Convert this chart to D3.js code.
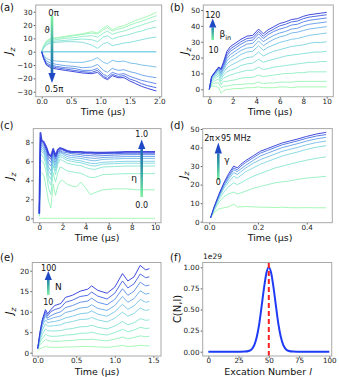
<!DOCTYPE html>
<html><head><meta charset="utf-8">
<script src="https://cdn.jsdelivr.net/npm/d3@7"></script>
<style>body{margin:0;background:#fff} svg{display:block} text{font-family:"DejaVu Sans",sans-serif}</style>
</head><body><svg id="c" width="339" height="377"></svg>
<script>
// ---------- DATA ----------
// (a) Jz vs time for theta = 0π ... 0.5π
const timeA = [0,0.03,0.08,0.15,0.25,0.4,0.55,0.7,0.85,0.95,1.05,1.12,1.2,1.3,1.4,1.5,1.6,1.7,1.8,1.95];
const seriesA = [
 [0,4,8,10,10.5,11.5,12.5,13.5,15,14.2,18,19.5,16.5,18.5,19.5,21.5,23.5,25,26.5,29.5],
 [0,4,7.5,9.5,10,11,12,13,14,13.2,16.5,18,15.5,17,18,20,21.5,23,24.5,27],
 [0,3.5,7,8.5,9,10,10.5,11.5,12,11,14,15.5,13,14.5,15.5,17,18.5,20,21.5,23.5],
 [0,3,6,7.5,8,8.5,9,9.5,9,7.5,11,12,9.5,11,12,13,14.5,15.5,17,18.5],
 [0,2.5,5,6.5,7,7.5,7.5,7,5,2.5,6,7,4.5,5.5,6.5,7,8,9,10,11],
 [0,0,0,0,0,0,0,0,0,0,0,0,0,0,0,0,0,0,0,0],
 [0,-2.5,-5,-6.5,-7,-7.5,-8,-8,-6.5,-4.5,-8,-9,-6.5,-7.5,-7,-8.5,-9,-10,-10.5,-11.5],
 [0,-3.5,-7,-8.5,-9.5,-10.5,-11,-12,-11.5,-9.5,-14,-15.5,-12.5,-14,-13.5,-15,-16,-17.5,-18.5,-19.5],
 [0,-4,-8.5,-10,-11,-12,-12.5,-14,-14,-12.5,-17,-18.5,-15.5,-17,-16.5,-18.5,-20,-21.5,-22.5,-24],
 [0,-4.5,-9.5,-11,-12,-13,-14,-15,-15.5,-14,-18.5,-20,-17,-18.5,-18,-20.5,-22,-24,-25.5,-27],
 [0,-5,-10,-12,-13,-14,-15,-16,-16.5,-15.5,-19.5,-21,-18,-19.5,-19.5,-22,-24,-26,-27.5,-29.5]
];
const xTicksA = [0,0.5,1,1.5,2], yTicksA = [-30,-20,-10,0,10,20,30];

// (b) Jz vs time for beta_in = 10 ... 120 (listed from 10 to 120)
const timeB = [0,0.2,0.5,0.8,1.0,1.2,1.5,1.8,2.2,2.7,3.2,3.7,4.2,4.6,5.0,5.5,6,6.5,7,7.5,8,8.5,9,9.5,10];
const seriesB = [
 [0,2,2,1,-2.5,-1,0,0,0.5,0.5,1,1,1.5,1,1,1,1.5,1.5,1,1.5,1.5,1.5,1.5,1.5,1.5],
 [0,3,4,4,1,2,2,2.5,3,3,3.5,3.5,4.5,3.5,4,4,4.5,4.5,4.5,5,5,5,5,5,5],
 [0,4,5.5,6.5,3,5,5,5.5,6,7,7.5,7.5,9,8,8.5,9,9.5,10,10,10.5,10.5,11,11,11,11],
 [0,5,7,8.5,5,7,8,9,10,11,12,12,14,12.5,13,14,14.5,15,15.5,16,16.5,17,17,17.5,17.5],
 [0,6,8,10,6.5,9,11,12,13,15,16,16.5,19,17,18,19,20,21,21.5,22,22.5,23,23.5,23.5,24],
 [0,6.5,9,11,8,10.5,13.5,15,16.5,18.5,20,20.5,23.5,21,22.5,24,25,26,27,27.5,28,29,29.5,29.5,30],
 [0,7,9.5,12,9,12,16,18,19.5,22,23.5,24,27.5,24.5,26.5,28,29.5,30.5,31.5,32,33,34,34.5,35,35.5],
 [0,7.5,10,12.5,10,13,18,20,22,24.5,26,26.5,30.5,27.5,29.5,31.5,33,34,35.5,36,37,38,38.5,39,39.5],
 [0,7.5,10.5,13,11,14,19.5,22,24,26.5,28.5,29,33,30,32,34,35.5,36.5,38,38.5,40,41,41.5,42,42.5],
 [0,8,11,13.5,12,15,21,24,26,28.5,30.5,31,35,32,34.5,36.5,38,39,40.5,41,42.5,43.5,44,44.5,45],
 [0,8,11,14,12.5,16,22.5,25.5,27.5,30,32,32.5,36.5,33.5,36,38,40,41,42.5,43,44.5,45.5,46,46.5,47],
 [0,8,11,14,13,17,24,27,29,31.5,33.5,34,38,35,37.5,39.5,41.5,42.5,44,44.5,46,47,47.5,48,48.5]
];
const xTicksB = [0,2,4,6,8,10], yTicksB = [0,10,20,30,40,50];

// (c) Jz vs time for eta = 0.0 ... 1.0
const timeC = [0,0.1,0.2,0.4,0.6,0.8,1.0,1.2,1.4,1.6,1.8,2.0,2.4,2.8,3.2,3.6,4.0,4.4,4.8,5.5,6.5,7.5,8.5,10];
const seriesC = [
 [0,0,0,0,0,0,0,0,0,0,0,0,0,0,0,0,0,0,0,0,0,0,0,0],
 [0.2,4.8,4.8,4.5,3.2,1.8,1.1,3.6,2.4,3.4,3.9,4.0,3.6,3.4,3.3,3.8,3.2,2.5,2.7,3.0,3.1,3.1,3.0,3.0],
 [0.3,6.2,6.0,5.8,4.8,3.2,2.5,4.8,3.8,4.8,5.4,5.3,5.0,4.9,4.8,4.75,4.5,4.3,4.3,4.6,4.65,4.7,4.7,4.7],
 [0.5,6.8,6.6,6.4,5.5,4.0,3.5,5.6,4.6,5.7,6.2,6.1,5.8,5.7,5.6,5.55,5.35,5.2,5.15,5.4,5.45,5.5,5.5,5.5],
 [0.5,7.2,7,6.8,5.9,4.5,4.1,6.0,5.0,6.0,6.5,6.4,6.1,6.0,5.9,5.85,5.7,5.55,5.5,5.7,5.75,5.8,5.8,5.8],
 [0.5,7.5,7.2,7,6.2,5.0,4.6,6.2,5.3,6.3,6.7,6.6,6.3,6.2,6.1,6.05,5.9,5.8,5.75,5.9,5.95,6.0,6.0,6.0],
 [0.5,7.8,7.4,7.2,6.5,5.4,5.0,6.5,5.6,6.5,6.9,6.8,6.5,6.4,6.35,6.3,6.2,6.1,6.05,6.2,6.25,6.3,6.3,6.3],
 [0.5,8,7.6,7.4,6.8,5.8,5.5,6.7,5.9,6.7,7.0,6.9,6.7,6.6,6.55,6.5,6.4,6.35,6.3,6.4,6.45,6.5,6.5,6.5],
 [0.5,8.2,7.8,7.6,7.1,6.2,5.9,6.9,6.2,6.9,7.1,7.0,6.9,6.8,6.75,6.7,6.6,6.6,6.55,6.6,6.65,6.7,6.7,6.7],
 [0.5,8.5,8,7.8,7.3,6.5,6.2,7.1,6.4,7.0,7.2,7.2,7.0,6.9,6.9,6.85,6.8,6.8,6.75,6.8,6.8,6.85,6.85,6.85],
 [0.5,9,8.2,8,7.5,6.8,6.5,7.3,6.6,7.2,7.4,7.3,7.1,7.0,7.0,7.0,6.95,6.95,6.9,6.9,6.95,7.0,7.0,7.0]
];
const xTicksC = [0,2,4,6,8,10], yTicksC = [0,2,4,6,8];

// (d) Jz vs time for gamma = 0 ... 2π×95 MHz
const timeD = [0.005,0.02,0.04,0.06,0.08,0.1,0.115,0.13,0.15,0.18,0.21,0.24,0.27,0.3,0.33,0.36,0.4,0.44,0.48];
const seriesD = [
 [2,5,7,7.5,8,9.5,8,8,8.2,8,7.8,7.8,7.6,7.8,7.6,7.5,7.6,7.5,7.5],
 [2,6,10.5,13.5,15,16,15,15.5,16.5,18,19,20,21,21.5,22,22.8,23.5,24,24.5],
 [2,6.5,12,16,19,21,20,21,22.5,24.5,26,27.5,29,30,31,32,33.2,34.2,35],
 [2,7,13,18,21.5,24.5,23.5,25,27,29,31,32.5,34,35.5,36.5,37.5,39,40.2,41],
 [2,7.5,13.5,19,23,26.5,25.5,27,29,31.5,33.5,35,36.5,38,39,40,41.5,42.7,43.5],
 [2,7.5,14,19.5,24,28,27,28.5,30.5,33,35.5,37,38.5,40,41,42,43.5,44.7,45.5],
 [2,8,14.5,20.5,25,29,28,30,32,34.5,37,38.5,40,41.5,42.5,43.5,45,46.2,47],
 [2,8,15,21,26,30,29,31,33,35.5,38,39.5,41,42.5,43.5,44.5,46,47.3,48.2]
];
const xTicksD = [0,0.2,0.4], yTicksD = [0,10,20,30,40,50];

// (e) Jz vs time for N = 10 ... 100
const timeE = [0,0.03,0.06,0.1,0.13,0.17,0.22,0.3,0.36,0.45,0.55,0.65,0.7,0.78,0.9,1.0,1.1,1.17,1.25,1.33,1.4,1.45];
const seriesE = [
 [0.5,1,1.2,1.5,1.4,1.3,1.3,1.3,1.4,1.4,1.5,1.5,1.5,1.4,1.3,1.5,1.8,1.5,1.6,1.8,1.7,1.7],
 [1,2,2.5,3.2,3,2.8,2.8,2.8,2.9,3.0,3.2,3.2,3.3,3.1,2.9,3.3,3.8,3.4,3.7,4.1,3.9,4],
 [1,2.5,3.5,4.5,4.2,4,4,4.1,4.3,4.4,4.7,4.8,5.0,4.6,4.3,4.9,5.7,5.1,5.5,6.2,5.9,6],
 [1,3,4.5,5.8,5.4,5.3,5.3,5.4,5.7,5.9,6.3,6.4,6.7,6.2,5.8,6.5,7.6,6.8,7.3,8.3,7.9,8],
 [1,3.5,5.5,7,6.5,6.5,6.6,6.8,7.3,7.6,8.1,8.2,8.6,8.0,7.5,8.4,9.9,8.9,9.6,10.9,10.3,10.5],
 [1,4,6.5,8,7.3,7.5,7.6,8,8.5,8.9,9.5,9.7,10.2,9.4,8.9,10,11.8,10.6,11.4,13,12.3,12.5],
 [1,4.5,7,9,8,8.3,8.6,9,9.8,10.2,10.9,11.1,11.7,10.8,10.3,11.5,13.7,12.3,13.2,15.1,14.3,14.5],
 [1,4.5,7.5,9.5,8.5,9,9.5,10,11,11.5,12.3,12.6,13.3,12.3,11.7,13,15.6,14,15,17.2,16.3,16.5],
 [1,5,8,10,9,10,10.5,11,12.3,12.8,13.7,14,14.8,13.8,13.1,14.5,17.5,15.8,16.8,19.2,18.3,18.5],
 [1,5,8,10.5,9.5,10.5,11.5,12,13.5,14,15,15.5,16.3,15.2,14.5,16,19.3,17.5,18.5,21.3,20.2,20.5]
];
const xTicksE = [0,0.5,1,1.5], yTicksE = [0,5,10,15,20];

// (f) C(N,l) (units of 1e29) vs excitation number l
const excitationL = [0,20,30,34,36,38,40,42,44,46,48,50,52,54,56,58,60,62,64,66,70,80,100];
const coeffC = [0,0,0.001,0.011,0.031,0.077,0.17,0.32,0.53,0.75,0.93,1.0,0.93,0.75,0.53,0.32,0.17,0.077,0.031,0.011,0.001,0,0];
const peakL = [50];
const xTicksF = [0,25,50,75,100], yTicksF = [0,0.25,0.5,0.75,1];

// ---------- DRAW ----------
const svg = d3.select("#c");
const defs = svg.append("defs");
const cmap = d3.interpolateRgbBasis(["#9ff7ad", "#84e6d8", "#72b8f2", "#2c37d8"]);

function panel(o) {
  const g = svg.append("g");
  const sx = d3.scaleLinear().domain(o.xv).range(o.xp);
  const sy = d3.scaleLinear().domain(o.yv).range(o.yp);
  sx.domain([sx.invert(o.L), sx.invert(o.R)]).range([o.L, o.R]);
  sy.domain([sy.invert(o.B), sy.invert(o.T)]).range([o.B, o.T]);
  const cid = "clip" + o.id;
  defs.append("clipPath").attr("id", cid).append("rect")
    .attr("x", o.L).attr("y", o.T).attr("width", o.R - o.L).attr("height", o.B - o.T);
  const plot = g.append("g").attr("clip-path", `url(#${cid})`);
  if (o.draw) o.draw(plot, sx, sy);
  const ax = g.append("g").attr("transform", `translate(0,${o.B})`)
    .call(d3.axisBottom(sx).tickValues(o.xt).tickFormat(o.xf).tickSizeInner(1.8).tickSizeOuter(0).tickPadding(0));
  const ay = g.append("g").attr("transform", `translate(${o.L},0)`)
    .call(d3.axisLeft(sy).tickValues(o.yt).tickFormat(o.yf).tickSizeInner(2).tickSizeOuter(0).tickPadding(1.2));
  [ax, ay].forEach(a => {
    a.select(".domain").remove();
    a.selectAll(".tick line").attr("stroke", "#333").attr("stroke-width", 0.8);
    a.selectAll(".tick text").attr("font-size", 7.2).attr("fill", "#222").attr("font-family", "DejaVu Sans");
  });
  g.append("rect").attr("x", o.L).attr("y", o.T).attr("width", o.R - o.L).attr("height", o.B - o.T)
    .attr("fill", "none").attr("stroke", "#a8a8a8").attr("stroke-width", 1);
  g.append("text").attr("x", o.lab[0]).attr("y", o.lab[1]).attr("font-size", 10).attr("fill", "#111").text(o.name);
  const xl = g.append("text").attr("x", o.xlab[0]).attr("y", o.xlab[1]).attr("text-anchor", "middle")
    .attr("font-size", 9.5).attr("fill", "#111");
  if (o.xlabelF) o.xlabelF(xl); else xl.text("Time (μs)");
  const yl = g.append("text").attr("transform", `translate(${o.ylab[0]},${o.ylab[1]}) rotate(-90)`)
    .attr("text-anchor", "middle").attr("font-size", 10).attr("fill", "#111");
  if (o.ylabelF) o.ylabelF(yl);
  else {
    yl.append("tspan").attr("font-style", "italic").text("J");
    yl.append("tspan").attr("font-style", "italic").attr("font-size", 7.5).attr("dy", 2.5).text("z");
  }
  if (o.extra) o.extra(g, sx, sy);
  return {sx, sy};
}

function drawSeries(times, series, widths) {
  return (plot, sx, sy) => {
    const line = d3.line().x(d => sx(d[0])).y(d => sy(d[1]));
    const n = series.length;
    series.forEach((s, i) => {
      plot.append("path").datum(times.map((t, k) => [t, s[k]]))
        .attr("d", line).attr("fill", "none")
        .attr("stroke", cmap(i / (n - 1)))
        .attr("stroke-opacity", 0.9)
        .attr("stroke-width", widths ? widths(i, n) : 1)
        .attr("stroke-linejoin", "round");
    });
  };
}

function gradArrow(g, id, x, yTail, yTip, headLen, c0, c1) {
  const gr = defs.append("linearGradient").attr("id", id).attr("gradientUnits", "userSpaceOnUse")
    .attr("x1", x).attr("y1", yTail).attr("x2", x).attr("y2", yTip);
  gr.append("stop").attr("offset", 0).attr("stop-color", c0);
  gr.append("stop").attr("offset", 0.5).attr("stop-color", "#2f9aa6");
  gr.append("stop").attr("offset", 1).attr("stop-color", c1);
  const dir = yTip < yTail ? -1 : 1;
  const yBase = yTip - dir * headLen;
  g.append("line").attr("x1", x).attr("x2", x).attr("y1", yTail).attr("y2", yBase)
    .attr("stroke", `url(#${id})`).attr("stroke-width", 2.6);
  g.append("path").attr("d", `M${x - 3.6},${yBase} L${x + 3.6},${yBase} L${x},${yTip} Z`).attr("fill", c1);
}

function label(g, x, y, txt, size, anchor) {
  return g.append("text").attr("x", x).attr("y", y).attr("font-size", size || 8)
    .attr("text-anchor", anchor || "middle").attr("fill", "#111").text(txt);
}

const f1 = d3.format(".1f"), fd = d3.format("d"), f2 = d3.format(".2f");

// (a)
panel({id: "a", name: "(a)", L: 35.7, R: 161.7, T: 5, B: 96.7,
  xv: [0, 2], xp: [41.7, 159.3], yv: [30, -30], yp: [11.7, 91.7],
  xt: xTicksA, yt: yTicksA, xf: f1, yf: fd,
  lab: [0, 10.5], xlab: [103, 114.6], ylab: [12, 51],
  draw: drawSeries(timeA, seriesA, (i, n) => i === 5 ? 1.6 : 1),
  extra: (g, sx, sy) => {
    gradArrow(g, "gA", 52, 16, 83, 10, "#7ef2a2", "#1f48c4");
    label(g, 53.5, 15.5, "0π", 8.5);
    label(g, 47, 33, "ϑ", 9);
    label(g, 54, 92, "0.5π", 8.5);
  }});

// (b)
panel({id: "b", name: "(b)", L: 203.3, R: 333.3, T: 5, B: 96.7,
  xv: [0, 10], xp: [209.3, 326.7], yv: [50, 0], yp: [10, 89.3],
  xt: xTicksB, yt: yTicksB, xf: fd, yf: fd,
  lab: [170, 10.5], xlab: [270, 114.6], ylab: [188, 51],
  draw: drawSeries(timeB, seriesB),
  extra: (g, sx, sy) => {
    gradArrow(g, "gB", 212.7, 40, 18.5, 9, "#7ef2a2", "#1f48c4");
    label(g, 212.8, 18, "120", 8);
    label(g, 213.5, 52.5, "10", 8);
    const t = g.append("text").attr("x", 219.5).attr("y", 37).attr("font-size", 9).attr("fill", "#111");
    t.append("tspan").text("β");
    t.append("tspan").attr("font-size", 6.5).attr("dy", 2.5).text("in");
  }});

// (c)
panel({id: "c", name: "(c)", L: 33.3, R: 161, T: 128.6, B: 222.7,
  xv: [0, 10], xp: [39.3, 155], yv: [8, 0], yp: [142.3, 218.3],
  xt: xTicksC, yt: yTicksC, xf: fd, yf: fd,
  lab: [0, 128.5], xlab: [97, 241.2], ylab: [13, 176],
  draw: drawSeries(timeC, seriesC, (i, n) => i === n - 1 ? 1.8 : 1),
  extra: (g, sx, sy) => {
    gradArrow(g, "gC", 141.7, 197, 139.5, 9.5, "#7ef2a2", "#1f48c4");
    label(g, 141.7, 136.5, "1.0", 8);
    label(g, 141.7, 207.7, "0.0", 8);
    label(g, 134, 181, "η", 9);
  }});

// (d)
panel({id: "d", name: "(d)", L: 202.7, R: 332.3, T: 128.6, B: 222.7,
  xv: [0, 0.4], xp: [209.3, 306.7], yv: [50, 0], yp: [129, 221.7],
  xt: xTicksD, yt: yTicksD, xf: f1, yf: fd,
  lab: [170, 128.5], xlab: [270, 241.2], ylab: [186.5, 175],
  draw: drawSeries(timeD, seriesD),
  extra: (g, sx, sy) => {
    gradArrow(g, "gD", 218.3, 180, 142.5, 11, "#7ef2a2", "#1f48c4");
    label(g, 227.5, 140.5, "2π×95 MHz", 8);
    label(g, 227, 163, "γ", 9);
    label(g, 218.3, 185, "0", 8);
  }});

// (e)
panel({id: "e", name: "(e)", L: 32.3, R: 161, T: 262.5, B: 356,
  xv: [0, 1.5], xp: [37.7, 153.3], yv: [20, 0], yp: [270.7, 352.7],
  xt: xTicksE, yt: yTicksE, xf: f1, yf: fd,
  lab: [0, 261], xlab: [97, 374.5], ylab: [13, 311],
  draw: drawSeries(timeE, seriesE),
  extra: (g, sx, sy) => {
    gradArrow(g, "gE", 48.3, 295, 271, 9, "#7ef2a2", "#1f48c4");
    label(g, 48.7, 270.5, "100", 8);
    label(g, 48.3, 305, "10", 8);
    label(g, 55, 289.5, "N", 9, "start");
  }});

// (f)
panel({id: "f", name: "(f)", L: 202.7, R: 331.7, T: 262.5, B: 356,
  xv: [0, 100], xp: [208.3, 329.3], yv: [1, 0], yp: [267.3, 351.7],
  xt: xTicksF, yt: yTicksF, xf: fd, yf: f2,
  lab: [170, 261], xlab: [268, 374.5], ylab: [180.5, 309],
  xlabelF: t => { t.append("tspan").text("Excation Number "); t.append("tspan").attr("font-style", "italic").text("l"); },
  ylabelF: t => t.text("C(N,l)"),
  draw: (plot, sx, sy) => {
    const line = d3.line().x(d => sx(d[0])).y(d => sy(d[1])).curve(d3.curveMonotoneX);
    plot.append("path").datum(excitationL.map((l, k) => [l, coeffC[k]]))
      .attr("d", line).attr("fill", "none").attr("stroke", "#1f3cf5").attr("stroke-width", 2);
    plot.selectAll(".peak").data(peakL).enter().append("line")
      .attr("x1", d => sx(d)).attr("x2", d => sx(d))
      .attr("y1", sy.range()[0]).attr("y2", sy.range()[1])
      .attr("stroke", "#f52020").attr("stroke-width", 2).attr("stroke-dasharray", "5,3");
  },
  extra: (g) => { label(g, 203, 259, "1e29", 7.5, "start"); }
});
</script></body></html>
